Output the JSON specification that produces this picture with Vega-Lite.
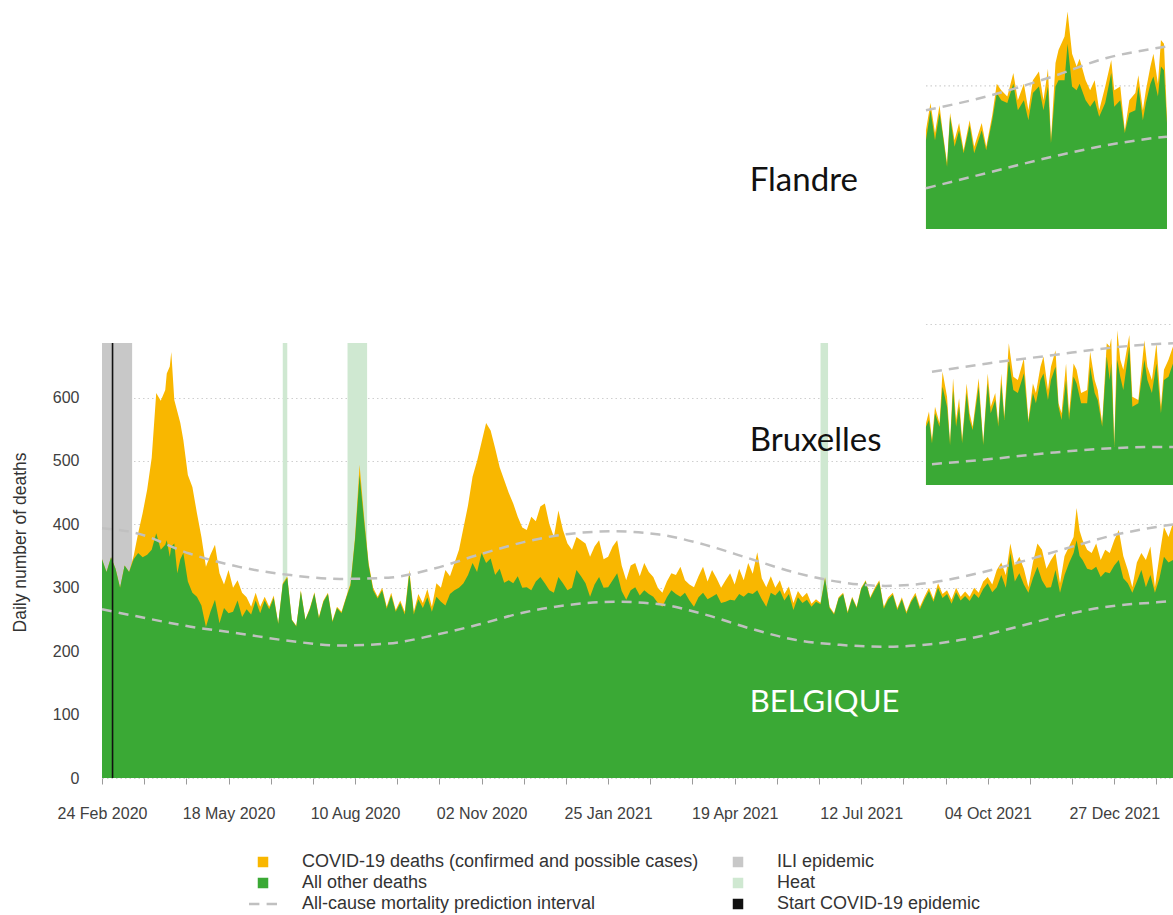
{
  "$schema": "https://vega.github.io/schema/vega-lite/v6.json",
  "width": 1071,
  "height": 778,
  "autosize": {"type": "none"},
  "padding": {"left": 102, "top": 0, "right": 0, "bottom": 137},
  "background": "white",
  "config": {
    "view": {"stroke": null},
    "font": "Liberation Sans",
    "axisX": {
      "labelExpr": "round((toNumber(datum.value) - 1582502400000) / 86400000) % 84 === 0 ? utcFormat(datum.value, '%d %b %Y') : ''",
      "domain": false, "grid": false,
      "tickColor": "#9a9a9a", "tickSize": 6, "tickWidth": 1,
      "labelFont": "Liberation Sans", "labelFontSize": 16, "labelColor": "#404040",
      "labelPadding": 21, "labelOverlap": false, "labelFlush": false, "labelBound": false
    },
    "axisY": {
      "titleFont": "Liberation Sans", "titleFontSize": 17.5, "titleFontWeight": "normal", "titleColor": "#333333",
      "titleX": -82, "titleY": 542, "titleAngle": 270, "titleAlign": "center", "titleBaseline": "middle",
      "domain": false, "ticks": false,
      "labelFont": "Liberation Sans", "labelFontSize": 16, "labelColor": "#404040", "labelPadding": 23,
      "grid": true, "gridColor": "#cfcfcf", "gridDash": [1.5, 3], "gridWidth": 1.2
    }
  },
  "datasets": {
    "main": [
      {"d":"2020-02-24","t":345,"o":345},{"d":"2020-02-27","t":325,"o":325},{"d":"2020-03-01","t":348,"o":348},{"d":"2020-03-04","t":330,"o":330},
      {"d":"2020-03-07","t":300,"o":300},{"d":"2020-03-10","t":335,"o":335},{"d":"2020-03-13","t":325,"o":325},{"d":"2020-03-16","t":350,"o":345},
      {"d":"2020-03-19","t":386,"o":355},{"d":"2020-03-22","t":418,"o":348},{"d":"2020-03-25","t":455,"o":352},{"d":"2020-03-28","t":505,"o":360},
      {"d":"2020-03-31","t":607,"o":386},{"d":"2020-04-03","t":595,"o":360},{"d":"2020-04-06","t":612,"o":368},{"d":"2020-04-07","t":638,"o":375},
      {"d":"2020-04-09","t":649,"o":349},{"d":"2020-04-10","t":672,"o":365},{"d":"2020-04-12","t":596,"o":370},{"d":"2020-04-14","t":578,"o":323},
      {"d":"2020-04-16","t":560,"o":345},{"d":"2020-04-18","t":533,"o":355},{"d":"2020-04-21","t":478,"o":310},{"d":"2020-04-24","t":459,"o":292},
      {"d":"2020-04-27","t":418,"o":286},{"d":"2020-04-30","t":380,"o":272},{"d":"2020-05-03","t":333,"o":238},{"d":"2020-05-06","t":352,"o":262},
      {"d":"2020-05-09","t":368,"o":281},{"d":"2020-05-12","t":323,"o":244},{"d":"2020-05-15","t":305,"o":268},{"d":"2020-05-18","t":328,"o":260},
      {"d":"2020-05-21","t":300,"o":262},{"d":"2020-05-24","t":312,"o":280},{"d":"2020-05-27","t":292,"o":254},{"d":"2020-05-30","t":285,"o":266},
      {"d":"2020-06-02","t":270,"o":258},{"d":"2020-06-05","t":292,"o":280},{"d":"2020-06-08","t":270,"o":260},{"d":"2020-06-11","t":286,"o":280},
      {"d":"2020-06-14","t":270,"o":266},{"d":"2020-06-17","t":288,"o":284},{"d":"2020-06-20","t":244,"o":243},{"d":"2020-06-23","t":307,"o":305},
      {"d":"2020-06-26","t":318,"o":316},{"d":"2020-06-29","t":250,"o":249},{"d":"2020-07-02","t":240,"o":239},{"d":"2020-07-05","t":296,"o":294},
      {"d":"2020-07-08","t":250,"o":249},{"d":"2020-07-11","t":268,"o":266},{"d":"2020-07-14","t":293,"o":291},{"d":"2020-07-17","t":254,"o":252},
      {"d":"2020-07-20","t":280,"o":278},{"d":"2020-07-23","t":292,"o":290},{"d":"2020-07-26","t":248,"o":246},{"d":"2020-07-29","t":270,"o":268},
      {"d":"2020-08-01","t":262,"o":260},{"d":"2020-08-04","t":285,"o":283},{"d":"2020-08-07","t":307,"o":304},{"d":"2020-08-10","t":380,"o":376},
      {"d":"2020-08-13","t":494,"o":478},{"d":"2020-08-16","t":412,"o":405},{"d":"2020-08-19","t":339,"o":335},{"d":"2020-08-22","t":300,"o":296},
      {"d":"2020-08-25","t":286,"o":283},{"d":"2020-08-28","t":300,"o":296},{"d":"2020-08-31","t":270,"o":267},{"d":"2020-09-03","t":292,"o":288},
      {"d":"2020-09-06","t":265,"o":262},{"d":"2020-09-09","t":280,"o":276},{"d":"2020-09-12","t":262,"o":258},{"d":"2020-09-15","t":328,"o":322},
      {"d":"2020-09-18","t":262,"o":258},{"d":"2020-09-21","t":290,"o":282},{"d":"2020-09-24","t":276,"o":268},{"d":"2020-09-27","t":298,"o":285},
      {"d":"2020-09-30","t":270,"o":262},{"d":"2020-10-03","t":307,"o":286},{"d":"2020-10-06","t":300,"o":278},{"d":"2020-10-09","t":328,"o":272},
      {"d":"2020-10-12","t":318,"o":290},{"d":"2020-10-15","t":339,"o":296},{"d":"2020-10-18","t":360,"o":300},{"d":"2020-10-21","t":395,"o":307},
      {"d":"2020-10-24","t":430,"o":320},{"d":"2020-10-27","t":475,"o":339},{"d":"2020-10-30","t":500,"o":325},{"d":"2020-11-02","t":530,"o":355},
      {"d":"2020-11-05","t":560,"o":339},{"d":"2020-11-08","t":548,"o":346},{"d":"2020-11-11","t":520,"o":320},{"d":"2020-11-14","t":490,"o":330},
      {"d":"2020-11-17","t":470,"o":308},{"d":"2020-11-20","t":450,"o":312},{"d":"2020-11-23","t":433,"o":307},{"d":"2020-11-26","t":412,"o":318},
      {"d":"2020-11-29","t":395,"o":300},{"d":"2020-12-02","t":391,"o":301},{"d":"2020-12-05","t":412,"o":296},{"d":"2020-12-08","t":405,"o":310},
      {"d":"2020-12-11","t":428,"o":317},{"d":"2020-12-14","t":433,"o":307},{"d":"2020-12-17","t":400,"o":296},{"d":"2020-12-20","t":380,"o":292},
      {"d":"2020-12-23","t":422,"o":317},{"d":"2020-12-26","t":391,"o":307},{"d":"2020-12-29","t":370,"o":296},{"d":"2021-01-01","t":360,"o":300},
      {"d":"2021-01-04","t":380,"o":328},{"d":"2021-01-07","t":375,"o":318},{"d":"2021-01-10","t":370,"o":307},{"d":"2021-01-13","t":349,"o":286},
      {"d":"2021-01-16","t":365,"o":305},{"d":"2021-01-19","t":375,"o":317},{"d":"2021-01-22","t":345,"o":300},{"d":"2021-01-25","t":349,"o":301},
      {"d":"2021-01-28","t":365,"o":312},{"d":"2021-01-31","t":375,"o":323},{"d":"2021-02-03","t":335,"o":295},{"d":"2021-02-06","t":312,"o":281},
      {"d":"2021-02-09","t":335,"o":296},{"d":"2021-02-12","t":339,"o":301},{"d":"2021-02-15","t":318,"o":288},{"d":"2021-02-18","t":339,"o":296},
      {"d":"2021-02-21","t":325,"o":290},{"d":"2021-02-24","t":317,"o":286},{"d":"2021-02-27","t":300,"o":276},{"d":"2021-03-02","t":292,"o":270},
      {"d":"2021-03-05","t":310,"o":285},{"d":"2021-03-08","t":323,"o":296},{"d":"2021-03-11","t":320,"o":290},{"d":"2021-03-14","t":333,"o":286},
      {"d":"2021-03-17","t":312,"o":292},{"d":"2021-03-20","t":305,"o":280},{"d":"2021-03-23","t":301,"o":270},{"d":"2021-03-26","t":318,"o":285},
      {"d":"2021-03-29","t":333,"o":292},{"d":"2021-04-01","t":310,"o":282},{"d":"2021-04-04","t":328,"o":286},{"d":"2021-04-07","t":315,"o":290},
      {"d":"2021-04-10","t":300,"o":276},{"d":"2021-04-13","t":312,"o":278},{"d":"2021-04-16","t":323,"o":281},{"d":"2021-04-19","t":305,"o":280},
      {"d":"2021-04-22","t":330,"o":290},{"d":"2021-04-25","t":312,"o":286},{"d":"2021-04-28","t":339,"o":292},{"d":"2021-05-01","t":322,"o":290},
      {"d":"2021-05-04","t":356,"o":296},{"d":"2021-05-07","t":315,"o":282},{"d":"2021-05-10","t":301,"o":270},{"d":"2021-05-13","t":318,"o":292},
      {"d":"2021-05-16","t":300,"o":288},{"d":"2021-05-19","t":312,"o":296},{"d":"2021-05-22","t":290,"o":280},{"d":"2021-05-25","t":302,"o":290},
      {"d":"2021-05-28","t":276,"o":265},{"d":"2021-05-31","t":295,"o":285},{"d":"2021-06-03","t":285,"o":276},{"d":"2021-06-06","t":292,"o":281},
      {"d":"2021-06-09","t":275,"o":270},{"d":"2021-06-12","t":282,"o":278},{"d":"2021-06-15","t":276,"o":274},{"d":"2021-06-18","t":317,"o":315},
      {"d":"2021-06-21","t":270,"o":268},{"d":"2021-06-24","t":260,"o":258},{"d":"2021-06-27","t":285,"o":283},{"d":"2021-06-30","t":292,"o":290},
      {"d":"2021-07-03","t":262,"o":260},{"d":"2021-07-06","t":286,"o":284},{"d":"2021-07-09","t":270,"o":268},{"d":"2021-07-12","t":300,"o":298},
      {"d":"2021-07-15","t":312,"o":310},{"d":"2021-07-18","t":285,"o":283},{"d":"2021-07-21","t":300,"o":297},{"d":"2021-07-24","t":312,"o":309},
      {"d":"2021-07-27","t":270,"o":267},{"d":"2021-07-30","t":285,"o":282},{"d":"2021-08-02","t":292,"o":289},{"d":"2021-08-05","t":268,"o":265},
      {"d":"2021-08-08","t":285,"o":282},{"d":"2021-08-11","t":262,"o":259},{"d":"2021-08-14","t":280,"o":277},{"d":"2021-08-17","t":292,"o":288},
      {"d":"2021-08-20","t":270,"o":266},{"d":"2021-08-23","t":286,"o":282},{"d":"2021-08-26","t":300,"o":295},{"d":"2021-08-29","t":282,"o":278},
      {"d":"2021-09-01","t":307,"o":300},{"d":"2021-09-04","t":290,"o":284},{"d":"2021-09-07","t":296,"o":290},{"d":"2021-09-10","t":281,"o":275},
      {"d":"2021-09-13","t":300,"o":293},{"d":"2021-09-16","t":286,"o":280},{"d":"2021-09-19","t":294,"o":287},{"d":"2021-09-22","t":286,"o":279},
      {"d":"2021-09-25","t":300,"o":291},{"d":"2021-09-28","t":292,"o":284},{"d":"2021-10-01","t":310,"o":298},{"d":"2021-10-04","t":317,"o":307},
      {"d":"2021-10-07","t":305,"o":293},{"d":"2021-10-10","t":328,"o":301},{"d":"2021-10-13","t":340,"o":320},{"d":"2021-10-16","t":320,"o":300},
      {"d":"2021-10-19","t":370,"o":355},{"d":"2021-10-22","t":335,"o":310},{"d":"2021-10-25","t":349,"o":323},{"d":"2021-10-28","t":330,"o":305},
      {"d":"2021-10-31","t":301,"o":292},{"d":"2021-11-03","t":340,"o":315},{"d":"2021-11-06","t":370,"o":333},{"d":"2021-11-09","t":360,"o":312},
      {"d":"2021-11-12","t":330,"o":300},{"d":"2021-11-15","t":344,"o":301},{"d":"2021-11-18","t":355,"o":328},{"d":"2021-11-21","t":307,"o":292},
      {"d":"2021-11-24","t":350,"o":320},{"d":"2021-11-27","t":365,"o":339},{"d":"2021-11-30","t":380,"o":355},{"d":"2021-12-02","t":426,"o":375},
      {"d":"2021-12-04","t":390,"o":350},{"d":"2021-12-06","t":375,"o":344},{"d":"2021-12-09","t":360,"o":330},{"d":"2021-12-12","t":355,"o":328},
      {"d":"2021-12-15","t":370,"o":333},{"d":"2021-12-18","t":344,"o":317},{"d":"2021-12-21","t":360,"o":325},{"d":"2021-12-24","t":355,"o":323},
      {"d":"2021-12-27","t":375,"o":335},{"d":"2021-12-30","t":391,"o":344},{"d":"2022-01-02","t":350,"o":315},{"d":"2022-01-05","t":328,"o":307},
      {"d":"2022-01-08","t":301,"o":292},{"d":"2022-01-11","t":340,"o":310},{"d":"2022-01-14","t":355,"o":328},{"d":"2022-01-17","t":344,"o":301},
      {"d":"2022-01-20","t":365,"o":320},{"d":"2022-01-23","t":301,"o":292},{"d":"2022-01-26","t":350,"o":315},{"d":"2022-01-29","t":396,"o":349},
      {"d":"2022-02-01","t":380,"o":340},{"d":"2022-02-04","t":402,"o":344}
    ],
    "pi": [
      {"d":"2020-02-24","lo":266,"hi":394},{"d":"2020-03-18","lo":255,"hi":386},{"d":"2020-04-22","lo":239,"hi":354},{"d":"2020-05-25","lo":228,"hi":333},
      {"d":"2020-06-28","lo":216,"hi":320},{"d":"2020-07-31","lo":209,"hi":314},{"d":"2020-09-01","lo":212,"hi":316},{"d":"2020-10-01","lo":225,"hi":330},
      {"d":"2020-10-31","lo":242,"hi":352},{"d":"2020-11-30","lo":261,"hi":372},{"d":"2020-12-30","lo":273,"hi":385},{"d":"2021-01-29","lo":278,"hi":389},
      {"d":"2021-02-28","lo":274,"hi":384},{"d":"2021-03-30","lo":258,"hi":368},{"d":"2021-04-29","lo":236,"hi":346},{"d":"2021-05-29","lo":218,"hi":324},
      {"d":"2021-06-28","lo":210,"hi":309},{"d":"2021-07-28","lo":207,"hi":303},{"d":"2021-08-27","lo":211,"hi":308},{"d":"2021-09-26","lo":222,"hi":322},
      {"d":"2021-10-26","lo":240,"hi":341},{"d":"2021-11-25","lo":258,"hi":362},{"d":"2021-12-25","lo":271,"hi":382},{"d":"2022-01-24","lo":277,"hi":396},
      {"d":"2022-02-04","lo":279,"hi":400}
    ],
    "events": [
      {"k":"ILI epidemic","s":"2020-02-24","e":"2020-03-15"},
      {"k":"Heat","s":"2020-06-23","e":"2020-06-26"},
      {"k":"Heat","s":"2020-08-05","e":"2020-08-18"},
      {"k":"Heat","s":"2021-06-15","e":"2021-06-20"}
    ],
    "start": [{"k":"Start COVID-19 epidemic","s":"2020-03-02"}],
    "labels": [
      {"d":"2021-04-29","v":942,"label":"Flandre"},
      {"d":"2021-04-29","v":532,"label":"Bruxelles"},
      {"d":"2021-04-29","v":118,"label":"BELGIQUE"}
    ],
    "fl": [
      {"d":"2021-08-24","t":138,"o":124},{"d":"2021-08-27","t":176,"o":166},{"d":"2021-08-30","t":134,"o":124},{"d":"2021-09-02","t":173,"o":162},
      {"d":"2021-09-04","t":138,"o":134},{"d":"2021-09-07","t":92,"o":87},{"d":"2021-09-09","t":162,"o":157},{"d":"2021-09-12","t":124,"o":115},
      {"d":"2021-09-15","t":148,"o":138},{"d":"2021-09-18","t":110,"o":106},{"d":"2021-09-22","t":152,"o":145},{"d":"2021-09-25","t":115,"o":106},
      {"d":"2021-09-30","t":148,"o":138},{"d":"2021-10-03","t":115,"o":110},{"d":"2021-10-07","t":159,"o":152},{"d":"2021-10-10","t":203,"o":190},
      {"d":"2021-10-13","t":194,"o":180},{"d":"2021-10-17","t":185,"o":176},{"d":"2021-10-21","t":218,"o":203},{"d":"2021-10-24","t":180,"o":166},
      {"d":"2021-10-28","t":203,"o":180},{"d":"2021-10-31","t":166,"o":152},{"d":"2021-11-03","t":208,"o":190},{"d":"2021-11-07","t":220,"o":199},
      {"d":"2021-11-10","t":180,"o":166},{"d":"2021-11-13","t":224,"o":199},{"d":"2021-11-15","t":124,"o":120},{"d":"2021-11-18","t":232,"o":199},
      {"d":"2021-11-20","t":250,"o":208},{"d":"2021-11-24","t":269,"o":208},{"d":"2021-11-26","t":304,"o":259},{"d":"2021-11-29","t":245,"o":199},
      {"d":"2021-12-02","t":227,"o":194},{"d":"2021-12-04","t":238,"o":203},{"d":"2021-12-08","t":208,"o":180},{"d":"2021-12-11","t":194,"o":171},
      {"d":"2021-12-14","t":208,"o":180},{"d":"2021-12-17","t":166,"o":157},{"d":"2021-12-21","t":199,"o":176},{"d":"2021-12-25","t":236,"o":218},
      {"d":"2021-12-27","t":194,"o":171},{"d":"2021-12-31","t":199,"o":180},{"d":"2022-01-03","t":138,"o":134},{"d":"2022-01-06","t":180,"o":162},
      {"d":"2022-01-10","t":190,"o":166},{"d":"2022-01-12","t":215,"o":199},{"d":"2022-01-15","t":166,"o":152},{"d":"2022-01-17","t":194,"o":176},
      {"d":"2022-01-20","t":227,"o":203},{"d":"2022-01-22","t":245,"o":213},{"d":"2022-01-25","t":203,"o":185},{"d":"2022-01-27","t":264,"o":227},
      {"d":"2022-01-29","t":259,"o":222},{"d":"2022-01-31","t":157,"o":148}
    ],
    "flpi": [
      {"d":"2021-08-24","lo":57,"hi":166},{"d":"2021-10-03","lo":78,"hi":185},{"d":"2021-11-16","lo":101,"hi":213},
      {"d":"2021-12-22","lo":117,"hi":239},{"d":"2022-01-22","lo":127,"hi":252},{"d":"2022-01-31","lo":129,"hi":255}
    ],
    "br": [
      {"d":"2021-08-24","t":15.4,"o":14.5},{"d":"2021-08-26","t":18.3,"o":16.2},{"d":"2021-08-28","t":11.2,"o":10.4},{"d":"2021-08-30","t":19.5,"o":17.9},
      {"d":"2021-09-02","t":15.4,"o":14.5},{"d":"2021-09-04","t":28.2,"o":24.5},{"d":"2021-09-07","t":22,"o":19.5},{"d":"2021-09-09","t":10.4,"o":10},
      {"d":"2021-09-11","t":26.6,"o":23.7},{"d":"2021-09-13","t":16.2,"o":14.5},{"d":"2021-09-15","t":21.6,"o":19.5},{"d":"2021-09-17","t":11.2,"o":10.4},
      {"d":"2021-09-20","t":25.3,"o":22.9},{"d":"2021-09-22","t":17.9,"o":16.2},{"d":"2021-09-24","t":14.5,"o":13.7},{"d":"2021-09-28","t":26.6,"o":24.5},
      {"d":"2021-10-01","t":10.4,"o":10},{"d":"2021-10-04","t":27.8,"o":25.3},{"d":"2021-10-06","t":19.5,"o":17.9},{"d":"2021-10-09","t":22.9,"o":21.2},
      {"d":"2021-10-11","t":15.4,"o":14.5},{"d":"2021-10-13","t":27.8,"o":25.3},{"d":"2021-10-15","t":17,"o":16.2},{"d":"2021-10-18","t":35.3,"o":31.2},
      {"d":"2021-10-21","t":27,"o":23.7},{"d":"2021-10-24","t":26.2,"o":22.9},{"d":"2021-10-28","t":31.6,"o":27.8},{"d":"2021-10-31","t":16.2,"o":15.5},
      {"d":"2021-11-03","t":25.3,"o":22.9},{"d":"2021-11-05","t":22.9,"o":20.4},{"d":"2021-11-08","t":29.5,"o":26.2},{"d":"2021-11-10","t":32,"o":27.8},
      {"d":"2021-11-13","t":23.7,"o":21.2},{"d":"2021-11-15","t":29.5,"o":26.2},{"d":"2021-11-18","t":33.6,"o":29.5},{"d":"2021-11-20","t":20.4,"o":19.5},
      {"d":"2021-11-22","t":17.9,"o":16.2},{"d":"2021-11-25","t":30.3,"o":26.2},{"d":"2021-11-27","t":17.9,"o":16.2},{"d":"2021-11-30","t":30.3,"o":27},
      {"d":"2021-12-02","t":28.7,"o":25.3},{"d":"2021-12-05","t":22.9,"o":20.4},{"d":"2021-12-09","t":23.7,"o":20.4},{"d":"2021-12-11","t":33.2,"o":29.5},
      {"d":"2021-12-14","t":26.2,"o":22.9},{"d":"2021-12-16","t":23.7,"o":21.2},{"d":"2021-12-19","t":15.4,"o":14.5},{"d":"2021-12-22","t":35.3,"o":32},
      {"d":"2021-12-24","t":34.5,"o":26.2},{"d":"2021-12-25","t":36.6,"o":30.3},{"d":"2021-12-27","t":10,"o":9.5},{"d":"2021-12-29","t":38.6,"o":31.2},
      {"d":"2021-12-31","t":31.2,"o":27},{"d":"2022-01-02","t":28.7,"o":23.7},{"d":"2022-01-06","t":37.4,"o":34.5},{"d":"2022-01-08","t":22,"o":19.5},
      {"d":"2022-01-12","t":21.2,"o":20.4},{"d":"2022-01-16","t":36.1,"o":31.2},{"d":"2022-01-18","t":29.5,"o":26.2},{"d":"2022-01-21","t":26.2,"o":22.9},
      {"d":"2022-01-24","t":35.3,"o":30.3},{"d":"2022-01-27","t":19.5,"o":17.9},{"d":"2022-01-29","t":28.7,"o":26.2},{"d":"2022-02-01","t":31.2,"o":27},
      {"d":"2022-02-04","t":34.5,"o":30.3}
    ],
    "brpi": [
      {"d":"2021-08-28","lo":5.2,"hi":28.2},{"d":"2021-10-04","lo":6.4,"hi":30.3},{"d":"2021-11-17","lo":8.1,"hi":32.4},
      {"d":"2021-12-22","lo":9.1,"hi":34.1},{"d":"2022-01-22","lo":9.5,"hi":35.1},{"d":"2022-02-04","lo":9.5,"hi":35.3}
    ],
    "blank": [{"n": 1}]
  },
  "layer": [
    {
      "layer": [
        {
          "data": {"name": "events"},
          "mark": {"type": "rect"},
          "encoding": {
            "x": {"field": "s", "type": "temporal", "title": null,
              "scale": {"type": "utc", "domain": [{"year":2020,"month":2,"date":24,"utc":true},{"year":2022,"month":2,"date":4,"utc":true}]},
              "axis": {
                "values": [
                  {"year":2020,"month":2,"date":24,"utc":true},{"year":2020,"month":3,"date":23,"utc":true},{"year":2020,"month":4,"date":20,"utc":true},
                  {"year":2020,"month":5,"date":18,"utc":true},{"year":2020,"month":6,"date":15,"utc":true},{"year":2020,"month":7,"date":13,"utc":true},
                  {"year":2020,"month":8,"date":10,"utc":true},{"year":2020,"month":9,"date":7,"utc":true},{"year":2020,"month":10,"date":5,"utc":true},
                  {"year":2020,"month":11,"date":2,"utc":true},{"year":2020,"month":11,"date":30,"utc":true},{"year":2020,"month":12,"date":28,"utc":true},
                  {"year":2021,"month":1,"date":25,"utc":true},{"year":2021,"month":2,"date":22,"utc":true},{"year":2021,"month":3,"date":22,"utc":true},
                  {"year":2021,"month":4,"date":19,"utc":true},{"year":2021,"month":5,"date":17,"utc":true},{"year":2021,"month":6,"date":14,"utc":true},
                  {"year":2021,"month":7,"date":12,"utc":true},{"year":2021,"month":8,"date":9,"utc":true},{"year":2021,"month":9,"date":6,"utc":true},
                  {"year":2021,"month":10,"date":4,"utc":true},{"year":2021,"month":11,"date":1,"utc":true},{"year":2021,"month":11,"date":29,"utc":true},
                  {"year":2021,"month":12,"date":27,"utc":true},{"year":2022,"month":1,"date":24,"utc":true}
                ]
              }
            },
            "x2": {"field": "e"},
            "y": {"datum": 0, "type": "quantitative", "title": "Daily number of deaths",
              "scale": {"domain": [0, 1227], "nice": false, "zero": true},
              "axis": {"values": [0, 100, 200, 300, 400, 500, 600]}
            },
            "y2": {"datum": 686},
            "color": {"field": "k", "type": "nominal",
              "scale": {
                "domain": ["COVID-19 deaths (confirmed and possible cases)", "All other deaths", "All-cause mortality prediction interval", "ILI epidemic", "Heat", "Start COVID-19 epidemic"],
                "range": ["#f9b700", "#3aa935", "#c0c0c0", "#c8c8c8", "#cfe8d1", "#111111"]
              },
              "legend": {
                "orient": "none", "legendX": 152, "legendY": 853, "title": null,
                "columns": 2, "columnPadding": 30, "rowPadding": 3, "padding": 0,
                "symbolType": "square", "symbolSize": 64, "symbolStrokeWidth": 2.5,
                "labelFont": "Liberation Sans", "labelFontSize": 18, "labelColor": "#333333",
                "labelOffset": 30, "labelLimit": 600,
                "encode": {
                  "symbols": {
                    "update": {
                      "shape": {"signal": "datum.value === 'All-cause mortality prediction interval' ? 'M-3.5,0H-0.9M0.9,0H3.5' : 'square'"},
                      "fill": {"signal": "datum.value === 'All-cause mortality prediction interval' ? 'transparent' : scale('color', datum.value)"},
                      "stroke": {"signal": "datum.value === 'All-cause mortality prediction interval' ? '#c0c0c0' : 'transparent'"},
                      "strokeWidth": {"value": 2.5},
                      "strokeDash": {"value": []},
                      "opacity": {"value": 1},
                      "size": {"value": 64}
                    }
                  }
                }
              }
            }
          }
        },
        {
          "data": {"name": "main"},
          "mark": {"type": "area", "interpolate": "linear"},
          "encoding": {
            "x": {"field": "d", "type": "temporal", "title": null},
            "y": {"field": "t", "type": "quantitative", "title": "Daily number of deaths"},
            "color": {"datum": "COVID-19 deaths (confirmed and possible cases)", "type": "nominal"}
          }
        },
        {
          "data": {"name": "main"},
          "mark": {"type": "area", "interpolate": "linear"},
          "encoding": {
            "x": {"field": "d", "type": "temporal", "title": null},
            "y": {"field": "o", "type": "quantitative", "title": "Daily number of deaths"},
            "color": {"datum": "All other deaths", "type": "nominal"}
          }
        },
        {
          "data": {"name": "pi"},
          "mark": {"type": "line", "interpolate": "monotone", "strokeDash": [10, 7], "strokeWidth": 2.5},
          "encoding": {
            "x": {"field": "d", "type": "temporal", "title": null},
            "y": {"field": "hi", "type": "quantitative", "title": "Daily number of deaths"},
            "color": {"datum": "All-cause mortality prediction interval", "type": "nominal"}
          }
        },
        {
          "data": {"name": "pi"},
          "mark": {"type": "line", "interpolate": "monotone", "strokeDash": [10, 7], "strokeWidth": 2.5},
          "encoding": {
            "x": {"field": "d", "type": "temporal", "title": null},
            "y": {"field": "lo", "type": "quantitative", "title": "Daily number of deaths"},
            "color": {"datum": "All-cause mortality prediction interval", "type": "nominal"}
          }
        },
        {
          "data": {"name": "start"},
          "mark": {"type": "rule", "strokeWidth": 1.6},
          "encoding": {
            "x": {"field": "s", "type": "temporal", "title": null},
            "y": {"datum": 0, "type": "quantitative", "title": "Daily number of deaths"},
            "y2": {"datum": 686},
            "color": {"field": "k", "type": "nominal"}
          }
        },
        {
          "data": {"name": "labels"},
          "transform": [{"filter": "datum.label !== 'BELGIQUE'"}],
          "mark": {"type": "text", "align": "left", "baseline": "middle", "font": "Lato", "fontSize": 33, "color": "#111111"},
          "encoding": {
            "x": {"field": "d", "type": "temporal", "title": null},
            "y": {"field": "v", "type": "quantitative", "title": "Daily number of deaths"},
            "text": {"field": "label"}
          }
        },
        {
          "data": {"name": "labels"},
          "transform": [{"filter": "datum.label === 'BELGIQUE'"}],
          "mark": {"type": "text", "align": "left", "baseline": "middle", "font": "Lato", "fontSize": 31, "color": "#ffffff"},
          "encoding": {
            "x": {"field": "d", "type": "temporal", "title": null},
            "y": {"field": "v", "type": "quantitative", "title": "Daily number of deaths"},
            "text": {"field": "label"}
          }
        }
      ]
    },
    {
      "layer": [
        {
          "data": {"name": "blank"},
          "mark": {"type": "rule", "color": "#cfcfcf", "strokeDash": [1.5, 3], "strokeWidth": 1.2},
          "encoding": {
            "x": {"datum": {"year":2021,"month":8,"date":24,"utc":true}, "type": "temporal", "title": null},
            "x2": {"datum": {"year":2022,"month":1,"date":31,"utc":true}},
            "y": {"datum": 200, "type": "quantitative", "scale": {"domain": [0, 320], "range": [229, 0], "nice": false, "zero": false}, "axis": null}
          }
        },
        {
          "data": {"name": "fl"},
          "mark": {"type": "area", "interpolate": "linear", "color": "#f9b700"},
          "encoding": {
            "x": {"field": "d", "type": "temporal", "title": null},
            "y": {"field": "t", "type": "quantitative", "axis": null}
          }
        },
        {
          "data": {"name": "fl"},
          "mark": {"type": "area", "interpolate": "linear", "color": "#3aa935"},
          "encoding": {
            "x": {"field": "d", "type": "temporal", "title": null},
            "y": {"field": "o", "type": "quantitative", "axis": null}
          }
        },
        {
          "data": {"name": "flpi"},
          "mark": {"type": "line", "interpolate": "monotone", "strokeDash": [10, 7], "strokeWidth": 2.5, "color": "#c0c0c0"},
          "encoding": {
            "x": {"field": "d", "type": "temporal", "title": null},
            "y": {"field": "hi", "type": "quantitative", "axis": null}
          }
        },
        {
          "data": {"name": "flpi"},
          "mark": {"type": "line", "interpolate": "monotone", "strokeDash": [10, 7], "strokeWidth": 2.5, "color": "#c0c0c0"},
          "encoding": {
            "x": {"field": "d", "type": "temporal", "title": null},
            "y": {"field": "lo", "type": "quantitative", "axis": null}
          }
        }
      ]
    },
    {
      "layer": [
        {
          "data": {"name": "blank"},
          "mark": {"type": "rect", "color": "#ffffff"},
          "encoding": {
            "x": {"datum": {"year":2021,"month":8,"date":23,"utc":true}, "type": "temporal", "title": null},
            "x2": {"datum": {"year":2022,"month":2,"date":6,"utc":true}},
            "y": {"datum": 0, "type": "quantitative", "scale": {"domain": [0, 59.07], "range": [485, 248], "nice": false, "zero": false}, "axis": null},
            "y2": {"datum": 59.07}
          }
        },
        {
          "data": {"name": "blank"},
          "mark": {"type": "rule", "color": "#cfcfcf", "strokeDash": [1.5, 3], "strokeWidth": 1.2},
          "encoding": {
            "x": {"datum": {"year":2021,"month":8,"date":24,"utc":true}, "type": "temporal", "title": null},
            "x2": {"datum": {"year":2022,"month":2,"date":5,"utc":true}},
            "y": {"datum": 40, "type": "quantitative", "axis": null}
          }
        },
        {
          "data": {"name": "br"},
          "mark": {"type": "area", "interpolate": "linear", "color": "#f9b700"},
          "encoding": {
            "x": {"field": "d", "type": "temporal", "title": null},
            "y": {"field": "t", "type": "quantitative", "axis": null}
          }
        },
        {
          "data": {"name": "br"},
          "mark": {"type": "area", "interpolate": "linear", "color": "#3aa935"},
          "encoding": {
            "x": {"field": "d", "type": "temporal", "title": null},
            "y": {"field": "o", "type": "quantitative", "axis": null}
          }
        },
        {
          "data": {"name": "brpi"},
          "mark": {"type": "line", "interpolate": "monotone", "strokeDash": [10, 7], "strokeWidth": 2.5, "color": "#c0c0c0"},
          "encoding": {
            "x": {"field": "d", "type": "temporal", "title": null},
            "y": {"field": "hi", "type": "quantitative", "axis": null}
          }
        },
        {
          "data": {"name": "brpi"},
          "mark": {"type": "line", "interpolate": "monotone", "strokeDash": [10, 7], "strokeWidth": 2.5, "color": "#c0c0c0"},
          "encoding": {
            "x": {"field": "d", "type": "temporal", "title": null},
            "y": {"field": "lo", "type": "quantitative", "axis": null}
          }
        }
      ]
    }
  ],
  "resolve": {"scale": {"y": "independent"}}
}
